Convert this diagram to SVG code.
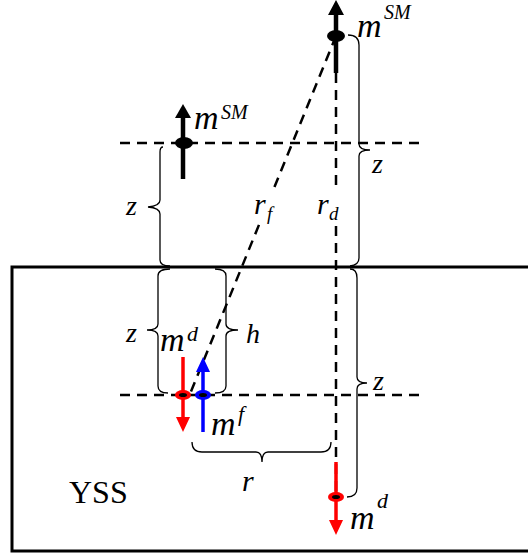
<svg xmlns="http://www.w3.org/2000/svg" width="528" height="557" viewBox="0 0 528 557">
<style>
.dash{stroke:#000;stroke-width:2.5;stroke-dasharray:10 7;fill:none}
.br{stroke:#000;stroke-width:1.3;fill:none}
.t{font-family:"Times New Roman","Liberation Serif","DejaVu Serif",serif;font-style:italic;fill:#000}
.r{font-family:"Times New Roman","Liberation Serif","DejaVu Serif",serif;fill:#000}
.blk{stroke:#000;stroke-width:4.5}
</style>
<rect width="528" height="557" fill="#fff"/>
<rect x="12" y="267" width="530" height="284" fill="none" stroke="#000" stroke-width="3"/>
<g id="connectors">
<line class="dash" x1="120" y1="143" x2="425" y2="143"/>
<line class="dash" x1="120" y1="395" x2="422" y2="395"/>
<line class="dash" x1="336" y1="73" x2="336" y2="497"/>
<line class="dash" x1="336" y1="36" x2="190" y2="394"/>
<rect x="250" y="188" width="34" height="34" fill="#fff"/>
<rect x="314" y="188" width="32" height="36" fill="#fff"/>
</g>
<g id="braces">
<path class="br" d="M163,147 Q160,147 160,152 L160,200 Q160,206 148,207 Q160,208 160,214 L160,260 Q160,266 170,266"/>
<path class="br" d="M170,269 Q158,269 158,276 L158,324 Q158,330 147,330 Q158,330 158,336 L158,386 Q158,393 168,393"/>
<path class="br" d="M215,269 Q226,269 226,276 L226,324 Q226,330 238,330 Q226,330 226,336 L226,386 Q226,393 215,393"/>
<path class="br" d="M348,35 Q359,35 359,45 L359,144 Q359,150 370,150 Q359,150 359,156 L359,258 Q359,265 350,266"/>
<path class="br" d="M350,269 Q357,269 357,278 L357,377 Q357,383 367,383 Q357,383 357,389 L357,488 Q357,497 347,497"/>
<path class="br" d="M192,442 Q192,452 202,452 L256,452 Q262,452 262,462 Q262,452 268,452 L321,452 Q331,452 331,442"/>
</g>
<g id="top-mSM">
<line class="blk" x1="336" y1="14" x2="336" y2="73"/>
<polygon points="336,0 328,15 344,15" fill="#000"/>
<ellipse cx="336" cy="36" rx="9" ry="6" fill="#000"/>
<text class="t" x="357" y="37" font-size="34">m</text>
<text class="t" x="384" y="19" font-size="20">SM</text>
</g>
<g id="upper-mSM">
<line class="blk" x1="183" y1="116" x2="183" y2="179"/>
<polygon points="183,104 175,118 191,118" fill="#000"/>
<ellipse cx="184" cy="143" rx="9" ry="6" fill="#000"/>
<text class="t" x="194" y="129" font-size="34">m</text>
<text class="t" x="221" y="119" font-size="20">SM</text>
</g>
<g id="md-left">
<line x1="183" y1="357" x2="183" y2="418" stroke="#f00" stroke-width="3.5"/>
<polygon points="183,432 176,417 190,417" fill="#f00"/>
<ellipse cx="183" cy="395" rx="8" ry="5" fill="#f00"/>
<ellipse cx="183" cy="395" rx="4" ry="2" fill="#000"/>
<text class="t" x="160" y="351" font-size="34">m</text>
<text class="t" x="187" y="341" font-size="22">d</text>
</g>
<g id="mf">
<line x1="203" y1="370" x2="203" y2="432" stroke="#00f" stroke-width="3.5"/>
<polygon points="203,357 196,372 210,372" fill="#00f"/>
<ellipse cx="203" cy="395" rx="8" ry="5" fill="#00f"/>
<ellipse cx="203" cy="395" rx="4" ry="2" fill="#000"/>
<text class="t" x="211" y="435" font-size="34">m</text>
<text class="t" x="238" y="421" font-size="22">f</text>
</g>
<g id="md-bottom">
<line x1="336" y1="462" x2="336" y2="522" stroke="#f00" stroke-width="3.5"/>
<polygon points="336,535 329,520 343,520" fill="#f00"/>
<ellipse cx="336" cy="497" rx="8" ry="5" fill="#f00"/>
<ellipse cx="336" cy="497" rx="4" ry="2" fill="#000"/>
<text class="t" x="350" y="529" font-size="34">m</text>
<text class="t" x="377" y="508" font-size="22">d</text>
</g>
<g id="labels">
<text class="t" x="126" y="215" font-size="28">z</text>
<text class="t" x="126" y="342" font-size="28">z</text>
<text class="t" x="246" y="343" font-size="28">h</text>
<text class="t" x="372" y="173" font-size="28">z</text>
<text class="t" x="373" y="390" font-size="28">z</text>
<text class="t" x="242" y="491" font-size="30">r</text>
<text class="t" x="254" y="214" font-size="30">r</text>
<text class="t" x="267" y="220" font-size="19">f</text>
<text class="t" x="317" y="214" font-size="30">r</text>
<text class="t" x="329" y="220" font-size="19">d</text>
<text class="r" x="69" y="503" font-size="32">YSS</text>
</g>
</svg>
